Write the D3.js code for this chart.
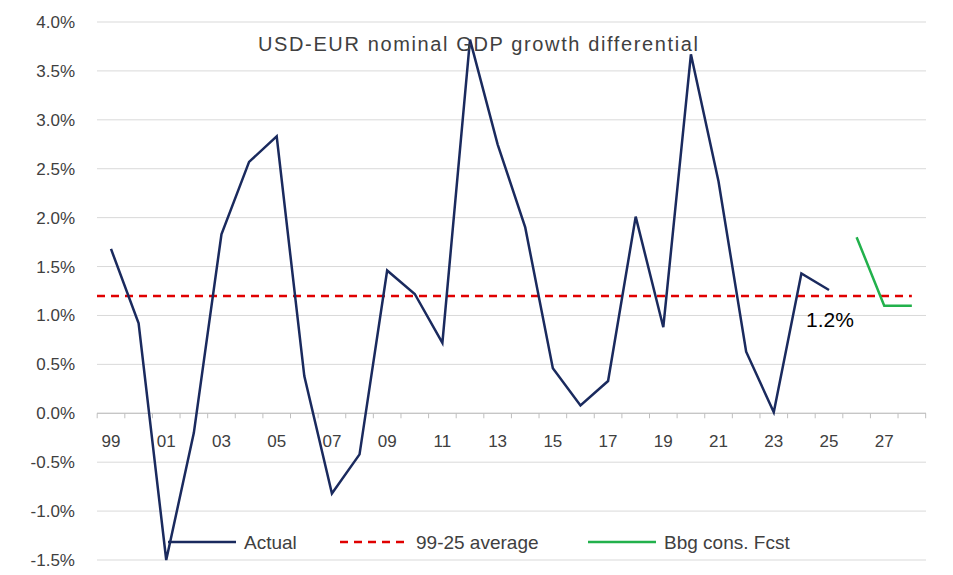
<!DOCTYPE html><html><head><meta charset="utf-8"><script src="https://cdn.jsdelivr.net/npm/d3@7"></script>
<style>body{margin:0;background:#fff;font-family:"Liberation Sans",Arial,sans-serif}</style></head><body><svg id="c" width="953" height="575"></svg><script>
const years=[1999,2000,2001,2002,2003,2004,2005,2006,2007,2008,2009,2010,2011,2012,2013,2014,2015,2016,2017,2018,2019,2020,2021,2022,2023,2024,2025];
const actual=[1.68,0.92,-1.5,-0.2,1.83,2.57,2.83,0.38,-0.82,-0.42,1.46,1.22,0.72,3.82,2.75,1.9,0.46,0.08,0.33,2.01,0.88,3.67,2.37,0.63,0.01,1.43,1.26];
const fcstYears=[2026,2027,2028];
const fcst=[1.8,1.1,1.1];
const average=1.2;
const yTicks=[-1.5,-1,-0.5,0,0.5,1,1.5,2,2.5,3,3.5,4];
const xLabels=[1999,2001,2003,2005,2007,2009,2011,2013,2015,2017,2019,2021,2023,2025,2027];
const svg=d3.select("#c");
const x=d3.scaleLinear().domain([1999,2025]).range([111,829]);
const y=d3.scaleLinear().domain([-1.5,4]).range([560,22]);
const L=97,R=926;
svg.append("g").selectAll("line").data(yTicks).join("line").attr("x1",L).attr("x2",R).attr("y1",d=>y(d)).attr("y2",d=>y(d)).attr("stroke","#d9d9d9");
svg.append("g").selectAll("text").data(yTicks).join("text").attr("x",75).attr("y",d=>y(d)+6).attr("text-anchor","end").attr("font-size",17).attr("fill","#404040").text(d=>d.toFixed(1)+"%");
svg.append("line").attr("x1",L).attr("x2",R).attr("y1",y(0)).attr("y2",y(0)).attr("stroke","#bfbfbf");
svg.append("g").selectAll("line").data(d3.range(1999,2030)).join("line").attr("x1",d=>x(d)-13.8).attr("x2",d=>x(d)-13.8).attr("y1",y(0)).attr("y2",y(0)+5).attr("stroke","#bfbfbf");
svg.append("g").selectAll("text").data(xLabels).join("text").attr("x",d=>x(d)).attr("y",y(0)+34).attr("text-anchor","middle").attr("font-size",17).attr("fill","#404040").text(d=>String(d%100).padStart(2,"0"));
svg.append("line").attr("x1",L).attr("x2",x(2028)).attr("y1",y(average)).attr("y2",y(average)).attr("stroke","#e00000").attr("stroke-width",2.5).attr("stroke-dasharray","8,6");
const line=d3.line().x(d=>x(d[0])).y(d=>y(d[1]));
svg.append("path").attr("d",line(years.map((d,i)=>[d,actual[i]]))).attr("fill","none").attr("stroke","#1a2a5e").attr("stroke-width",2.5);
svg.append("path").attr("d",line(fcstYears.map((d,i)=>[d,fcst[i]]))).attr("fill","none").attr("stroke","#22b14c").attr("stroke-width",2.5);
svg.append("text").attr("x",478).attr("y",51).attr("text-anchor","middle").attr("font-size",20).attr("textLength",440).attr("fill","#404040").text("USD-EUR nominal GDP growth differential");
svg.append("text").attr("x",806).attr("y",327).attr("font-size",21).attr("fill","#000").text("1.2%");
const lg=[["Actual","#1a2a5e",null,168],["99-25 average","#e00000","8,6",340],["Bbg cons. Fcst","#22b14c",null,588]];
lg.forEach(([t,c,da,lx])=>{svg.append("line").attr("x1",lx).attr("x2",lx+68).attr("y1",542).attr("y2",542).attr("stroke",c).attr("stroke-width",2.5).attr("stroke-dasharray",da);
svg.append("text").attr("x",lx+76).attr("y",549).attr("font-size",19).attr("fill","#404040").text(t);});
</script></body></html>
